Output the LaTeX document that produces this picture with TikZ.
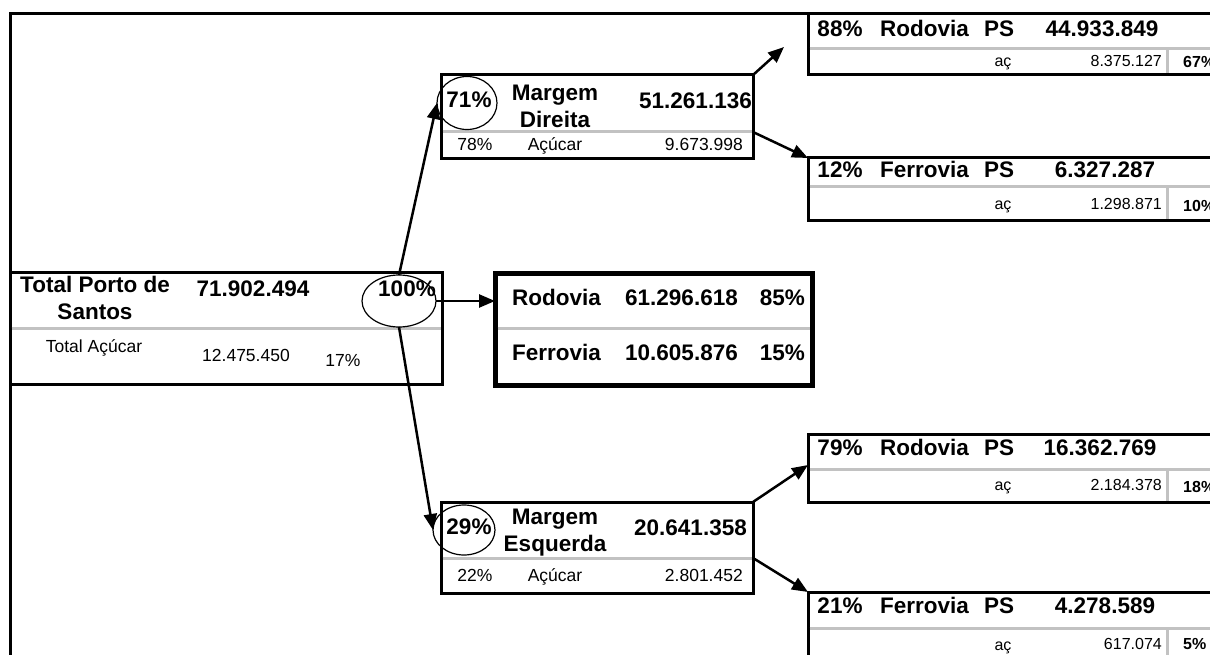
\documentclass[tikz,border=0pt]{standalone}
\usepackage{fontspec}
\setmainfont{Liberation Sans}
\usetikzlibrary{arrows.meta,shapes.geometric}
\begin{document}
\begin{tikzpicture}[x=1pt,y=-1pt,
  frame/.style={draw=black,line width=3pt},
  cell/.style={draw=black,line width=3pt,fill=white,inner sep=0pt,outer sep=0pt,anchor=north west},
  thick cell/.style={cell,line width=5pt},
  sep/.style={draw=black!24,line width=3pt,shorten <=1.5pt,shorten >=1.5pt},
  ring/.style={draw=black,line width=1.2pt,ellipse,inner sep=0pt,outer sep=0pt},
  arr/.style={draw=black,line width=2.5pt,-{Triangle[length=16pt,width=13pt]}},
  big/.style={font=\fontsize{22.5}{27}\selectfont\bfseries,inner sep=0pt},
  small/.style={font=\fontsize{17.5}{20}\selectfont,inner sep=0pt},
  tiny/.style={font=\fontsize{16}{19}\selectfont,inner sep=0pt},
  tiny bold/.style={font=\fontsize{16}{19}\selectfont\bfseries,inner sep=0pt}]
\clip (0,0) rectangle (1210,655);

% outer frame
\draw[frame] (10,670) -- (10,14) -- (1240,14);

% ---- total box ----
\node[cell,minimum width=432pt,minimum height=112pt] (tot) at (10,272) {};
\draw[sep] (tot.west |- 0,328) -- (tot.east |- 0,328);
\node[big,align=center] (totname) at (95,298) {Total Porto de\\Santos};
\node[big,anchor=mid] (totval) at (253,294) {71.902.494};
\node[small,anchor=mid] (totac) at (94,350) {Total Açúcar};
\node[small,anchor=mid] (totacv) at (246,359) {12.475.450};
\node[small,anchor=mid] (totacp) at (343,364) {17\%};
\node[ring,minimum width=74pt,minimum height=52pt] (e100) at (399,301) {};
\node[big,anchor=mid] (p100) at (407,294) {100\%};

% ---- modal split box ----
\node[thick cell,minimum width=317pt,minimum height=112pt] (rf) at (495,273) {};
\draw[sep,shorten <=2.5pt,shorten >=2.5pt] (rf.west |- 0,328) -- (rf.east |- 0,328);
\node[big,anchor=mid west] (rfr) at (512,303) {Rodovia};
\node[big,anchor=mid east] (rfrv) at (738,303) {61.296.618};
\node[big,anchor=mid east] (rfrp) at (805,303) {85\%};
\node[big,anchor=mid west] (rff) at (512,358) {Ferrovia};
\node[big,anchor=mid east] (rffv) at (738,358) {10.605.876};
\node[big,anchor=mid east] (rffp) at (805,358) {15\%};

% ---- Margem Direita ----
\node[cell,minimum width=312pt,minimum height=84pt] (md) at (441,75) {};
\draw[sep] (md.west |- 0,132) -- (md.east |- 0,132);
\coordinate (mdS) at (md.east |- 0,132);
\node[ring,minimum width=60pt,minimum height=53pt] (e71) at (467,103) {};
\node[big,anchor=mid] (p71) at (469,105) {71\%};
\node[big,align=center] (mdname) at (555,106) {Margem\\Direita};
\node[big,anchor=mid east] (mdval) at (752,106) {51.261.136};
\node[small,anchor=mid] (mdp) at (475,148) {78\%};
\node[small,anchor=mid] (mdac) at (555,148) {Açúcar};
\node[small,anchor=mid east] (mdacv) at (743,148) {9.673.998};

% ---- Margem Esquerda ----
\node[cell,minimum width=312pt,minimum height=91pt] (me) at (441,502) {};
\draw[sep] (me.west |- 0,558) -- (me.east |- 0,558);
\coordinate (meS) at (me.east |- 0,558);
\node[ring,minimum width=62pt,minimum height=50pt] (e29) at (464,530) {};
\node[big,anchor=mid] (p29) at (469,532) {29\%};
\node[big,align=center] (mename) at (555,533) {Margem\\Esquerda};
\node[big,anchor=mid east] (meval) at (747,533) {20.641.358};
\node[small,anchor=mid] (mep) at (475,579) {22\%};
\node[small,anchor=mid] (meac) at (555,579) {Açúcar};
\node[small,anchor=mid east] (meacv) at (743,579) {2.801.452};

% ---- right-hand detail boxes ----
\node[cell,minimum width=432pt,minimum height=61pt] (b1) at (808,14) {};
\node[cell,minimum width=432pt,minimum height=63pt] (b2) at (808,158) {};
\node[cell,minimum width=432pt,minimum height=68pt] (b3) at (808,434) {};
\node[cell,minimum width=432pt,minimum height=98pt] (b4) at (808,592) {};
\draw[frame] (1240,14) -- (808,14);

\draw[sep] (b1.west |- 0,49) -- (b1.east |- 0,49);
\draw[sep,shorten >=1.5pt] (1167,49) -- (b1.south -| 1167,0);
\node[big,anchor=mid] (b1p) at (840,34) {88\%};
\node[big,anchor=mid west] (b1m) at (880,34) {Rodovia};
\node[big,anchor=mid] (b1ps) at (999,34) {PS};
\node[big,anchor=mid] (b1v) at (1102,34) {44.933.849};
\node[tiny,anchor=mid] (b1a) at (1003,64) {aç};
\node[tiny,anchor=mid east] (b1av) at (1162,64) {8.375.127};
\node[tiny bold,anchor=mid west] (b1ap) at (1183,65) {67\%};

\draw[sep] (b2.west |- 0,187) -- (b2.east |- 0,187);
\draw[sep,shorten >=1.5pt] (1167,187) -- (b2.south -| 1167,0);
\node[big,anchor=mid] (b2p) at (840,175) {12\%};
\node[big,anchor=mid west] (b2m) at (880,175) {Ferrovia};
\node[big,anchor=mid] (b2ps) at (999,175) {PS};
\node[big,anchor=mid] (b2v) at (1105,175) {6.327.287};
\node[tiny,anchor=mid] (b2a) at (1003,207) {aç};
\node[tiny,anchor=mid east] (b2av) at (1162,207) {1.298.871};
\node[tiny bold,anchor=mid west] (b2ap) at (1183,209) {10\%};

\draw[sep] (b3.west |- 0,469) -- (b3.east |- 0,469);
\draw[sep,shorten >=1.5pt] (1167,469) -- (b3.south -| 1167,0);
\node[big,anchor=mid] (b3p) at (840,453) {79\%};
\node[big,anchor=mid west] (b3m) at (880,453) {Rodovia};
\node[big,anchor=mid] (b3ps) at (999,453) {PS};
\node[big,anchor=mid] (b3v) at (1100,453) {16.362.769};
\node[tiny,anchor=mid] (b3a) at (1003,488) {aç};
\node[tiny,anchor=mid east] (b3av) at (1162,488) {2.184.378};
\node[tiny bold,anchor=mid west] (b3ap) at (1183,490) {18\%};

\draw[sep] (b4.west |- 0,628) -- (b4.east |- 0,628);
\draw[sep] (1167,628) -- (1167,670);
\node[big,anchor=mid] (b4p) at (840,611) {21\%};
\node[big,anchor=mid west] (b4m) at (880,611) {Ferrovia};
\node[big,anchor=mid] (b4ps) at (999,611) {PS};
\node[big,anchor=mid] (b4v) at (1105,611) {4.278.589};
\node[tiny,anchor=mid] (b4a) at (1003,648) {aç};
\node[tiny,anchor=mid east] (b4av) at (1162,647) {617.074};
\node[tiny bold,anchor=mid west] (b4ap) at (1183,647) {5\%};

% ---- connectors ----
\coordinate (upTip) at (784,47);
\coordinate (b3in) at (b3.west |- 0,465);
\draw[arr] (e100.north) -- (e71.west);
\draw[arr] (e100.south) -- (e29.west);
\draw[arr] (e100.east) -- (e100.east -| rf.west);
\draw[arr] (md.north east) -- (upTip);
\draw[arr] (mdS) -- (b2.north west);
\draw[arr] (me.north east) -- (b3in);
\draw[arr] (meS) -- (b4.north west);
\end{tikzpicture}
\end{document}
